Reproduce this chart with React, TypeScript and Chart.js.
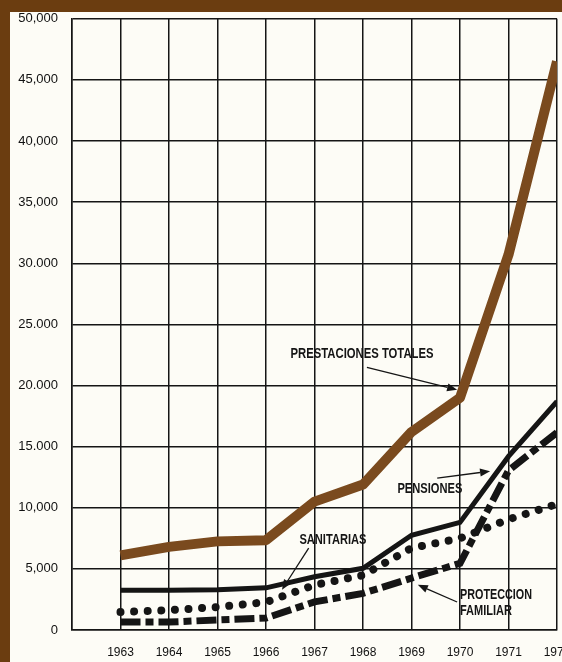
import { useEffect, useRef } from "react";
import { Chart, registerables } from "chart.js";

Chart.register(...registerables);

const years = [1963, 1964, 1965, 1966, 1967, 1968, 1969, 1970, 1971, 1972];
const prestacionesTotales = [6100, 6800, 7250, 7350, 10500, 11900, 16200, 19000, 30700, 46500];
const pensiones = [3250, 3250, 3300, 3450, 4350, 5050, 7750, 8800, 14200, 18700];
const sanitarias = [1470, 1620, 1880, 2280, 3680, 4480, 6700, 7500, 9050, 10300];
const proteccionFamiliar = [650, 650, 820, 980, 2300, 3000, 4250, 5450, 13050, 16150];
const yTickLabels = ["0", "5,000", "10,000", "15.000", "20.000", "25.000", "30.000", "35,000", "40,000", "45,000", "50,000"];

// annotation texts: [text, x(year), y(value), align, maxWidth]
const labelTexts: [string, number, number, CanvasTextAlign, number][] = [
  ["PRESTACIONES TOTALES", 1967.98, 22630, "center", 143],
  ["PENSIONES", 1969.38, 11520, "center", 65],
  ["SANITARIAS", 1967.38, 7350, "center", 67],
  ["PROTECCION", 1970.0, 2860, "left", 72],
  ["FAMILIAR", 1970.0, 1550, "left", 52],
];
// arrows: [x1, y1, x2, y2] (from -> to, head at "to")
const arrows: [number, number, number, number][] = [
  [1968.08, 21490, 1969.94, 19650],
  [1969.53, 12420, 1970.62, 12990],
  [1966.88, 6700, 1966.33, 3300],
  [1969.94, 2290, 1969.13, 3700],
];

const BROWN = "#7a4a1e";
const INK = "#151515";

function pts(vals: number[]) {
  return vals.map((v, i) => ({ x: years[i], y: v }));
}

const annotationPlugin = {
  id: "annot",
  afterDatasetsDraw(chart: any) {
    const ctx = chart.ctx as CanvasRenderingContext2D;
    const xs = chart.scales.x;
    const ys = chart.scales.y;
    ctx.save();
    ctx.fillStyle = INK;
    ctx.strokeStyle = INK;
    ctx.font = "bold 15px 'Liberation Sans', Arial, sans-serif";
    ctx.textBaseline = "middle";
    for (const [t, x, y, al, mw] of labelTexts) {
      const px = xs.getPixelForValue(x);
      const py = ys.getPixelForValue(y);
      ctx.textAlign = al;
      ctx.fillText(t, px, py, mw);
    }
    ctx.lineWidth = 1.3;
    for (const [x1, y1, x2, y2] of arrows) {
      const p1x = xs.getPixelForValue(x1);
      const p1y = ys.getPixelForValue(y1);
      const p2x = xs.getPixelForValue(x2);
      const p2y = ys.getPixelForValue(y2);
      const a = Math.atan2(p2y - p1y, p2x - p1x);
      const hl = 10;
      const hw = 4;
      const bx = p2x - hl * Math.cos(a);
      const by = p2y - hl * Math.sin(a);
      ctx.beginPath();
      ctx.moveTo(p1x, p1y);
      ctx.lineTo(bx, by);
      ctx.stroke();
      ctx.beginPath();
      ctx.moveTo(p2x, p2y);
      ctx.lineTo(bx + hw * Math.sin(a), by - hw * Math.cos(a));
      ctx.lineTo(bx - hw * Math.sin(a), by + hw * Math.cos(a));
      ctx.closePath();
      ctx.fill();
    }
    ctx.restore();
  },
};

export default function App() {
  const ref = useRef<HTMLCanvasElement | null>(null);
  useEffect(() => {
    document.body.style.margin = "0";
    const canvas = ref.current;
    if (!canvas) return;
    const chart = new Chart(canvas, {
      type: "line",
      data: {
        datasets: [
          {
            label: "Prestaciones totales",
            data: pts(prestacionesTotales),
            borderColor: BROWN,
            borderWidth: 10,
            borderJoinStyle: "round",
            pointRadius: 0,
            tension: 0,
          },
          {
            label: "Pensiones",
            data: pts(pensiones),
            borderColor: INK,
            borderWidth: 5,
            pointRadius: 0,
            tension: 0,
          },
          {
            label: "Sanitarias",
            data: pts(sanitarias),
            borderColor: INK,
            borderWidth: 8,
            borderDash: [0.01, 13.6],
            borderCapStyle: "round",
            pointRadius: 0,
            tension: 0,
          },
          {
            label: "Protección familiar",
            data: pts(proteccionFamiliar),
            borderColor: INK,
            borderWidth: 7,
            borderDash: [20, 5, 8, 5],
            borderCapStyle: "butt",
            pointRadius: 0,
            tension: 0,
          },
        ],
      },
      options: {
        animation: false,
        responsive: false,
        layout: { padding: { top: 6, right: 33, left: 0, bottom: 0 } },
        plugins: { legend: { display: false }, tooltip: { enabled: false } },
        scales: {
          x: {
            type: "linear",
            min: 1962,
            max: 1972,
            afterFit: (s: any) => {
              s.height = 32;
            },
            ticks: {
              stepSize: 1,
              autoSkip: false,
              maxRotation: 0,
              padding: 15,
              color: "#111",
              font: { family: "'Liberation Sans', Arial, sans-serif", size: 12 },
              callback: (v: any) => (Number(v) === 1962 ? "" : String(v)),
            },
            grid: { color: INK, lineWidth: 1.5, drawTicks: false },
            border: { color: INK, width: 1.5 },
          },
          y: {
            min: 0,
            max: 50000,
            afterFit: (s: any) => {
              s.width = 62;
            },
            ticks: {
              stepSize: 5000,
              padding: 14,
              color: "#111",
              font: { family: "'Liberation Sans', Arial, sans-serif", size: 13 },
              callback: (v: any) => yTickLabels[Math.round(Number(v) / 5000)],
            },
            grid: { color: INK, lineWidth: 1.5, drawTicks: false },
            border: { color: INK, width: 1.5 },
          },
        },
      },
      plugins: [annotationPlugin],
    } as any);
    return () => chart.destroy();
  }, []);
  return (
    <div
      style={{
        position: "fixed",
        left: 0,
        top: 0,
        width: 562,
        height: 662,
        background: "#6b3d10",
        overflow: "hidden",
      }}
    >
      <div
        style={{
          position: "absolute",
          left: 10,
          top: 12,
          width: 552,
          height: 650,
          background: "#fdfcf6",
          overflow: "hidden",
        }}
      >
        <canvas
          ref={ref}
          width={580}
          height={665}
          style={{ display: "block", position: "absolute", left: 0, top: -15 }}
        />
      </div>
    </div>
  );
}
